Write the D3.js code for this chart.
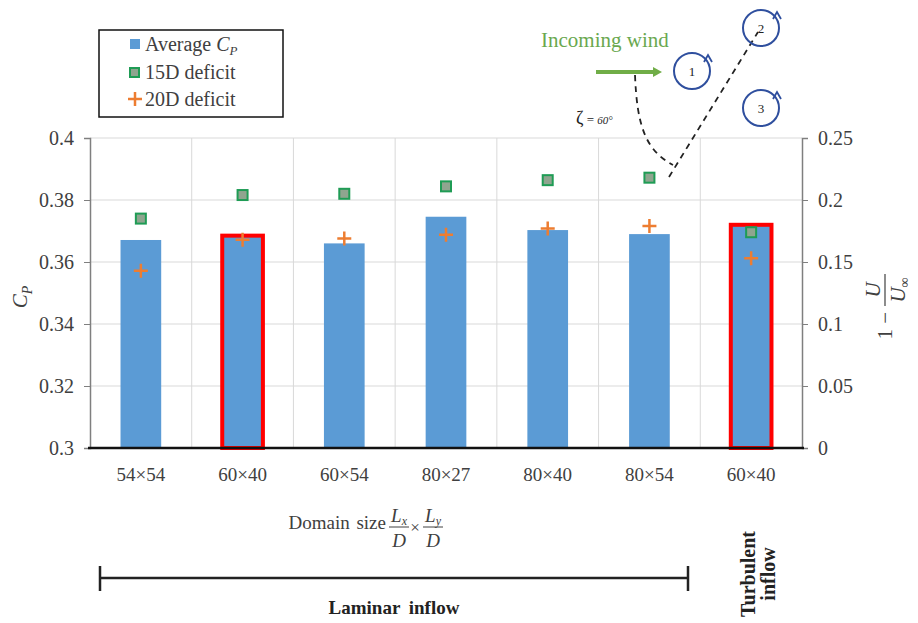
<!DOCTYPE html>
<html>
<head>
<meta charset="utf-8">
<script src="https://cdn.jsdelivr.net/npm/d3@7"></script>
<style>
  body { margin: 0; background: #fff; }
</style>
</head>
<body>
<div id="vis"></div>
<script>
// domain sizes (last one is the turbulent inflow case)
let categories = ['54×54', '60×40', '60×54', '80×27', '80×40', '80×54', '60×40']
let avgCp = [0.3671, 0.3685, 0.3660, 0.3746, 0.3703, 0.3690, 0.3720]
let deficit15D = [0.185, 0.204, 0.205, 0.211, 0.216, 0.218, 0.174]
let deficit20D = [0.143, 0.168, 0.169, 0.172, 0.177, 0.179, 0.153]
let highlighted = [false, true, false, false, false, false, true]
let leftTicks = [0.3, 0.32, 0.34, 0.36, 0.38, 0.4]
let rightTicks = [0, 0.05, 0.1, 0.15, 0.2, 0.25]

let width = 918, height = 623
let mLeft = 90, mRight = 802, mTop = 138, mBottom = 448

let svg = d3.select('#vis').append('svg')
    .attr('width', width)
    .attr('height', height)
    .attr('font-family', "'Liberation Serif', serif")

let x = d3.scaleBand()
    .domain(d3.range(categories.length))
    .range([mLeft, mRight])

let y = d3.scaleLinear().domain([0.3, 0.4]).range([mBottom, mTop])
let y2 = d3.scaleLinear().domain([0, 0.25]).range([mBottom, mTop])

let textColor = '#404040'

// grid
svg.append('g')
    .selectAll('line')
    .data(leftTicks.slice(1))
    .join('line')
    .attr('x1', mLeft).attr('x2', mRight)
    .attr('y1', d => y(d)).attr('y2', d => y(d))
    .attr('stroke', '#d9d9d9').attr('stroke-width', 1)

svg.append('g')
    .selectAll('line')
    .data(d3.range(1, categories.length))
    .join('line')
    .attr('x1', d => x(d)).attr('x2', d => x(d))
    .attr('y1', mTop).attr('y2', mBottom)
    .attr('stroke', '#d9d9d9').attr('stroke-width', 1)

// left axis
let yAxis = svg.append('g')
    .attr('transform', `translate(${mLeft},0)`)
    .call(d3.axisLeft(y).tickValues(leftTicks).tickSize(6).tickFormat(d => +d.toFixed(2)))
yAxis.attr('font-family', null)
yAxis.select('.domain').attr('stroke', '#7f7f7f').attr('stroke-width', 1.5)
yAxis.selectAll('.tick line').attr('stroke', '#7f7f7f')
yAxis.selectAll('.tick text')
    .attr('x', -16)
    .style('font-size', '20px')
    .attr('fill', textColor)

// right axis
let y2Axis = svg.append('g')
    .attr('transform', `translate(${mRight},0)`)
    .call(d3.axisRight(y2).tickValues(rightTicks).tickSize(6).tickFormat(d => +d.toFixed(2)))
y2Axis.attr('font-family', null)
y2Axis.select('.domain').attr('stroke', '#7f7f7f').attr('stroke-width', 1.5)
y2Axis.selectAll('.tick line').attr('stroke', '#7f7f7f')
y2Axis.selectAll('.tick text')
    .attr('x', 16)
    .style('font-size', '20px')
    .attr('fill', textColor)

// bars
let barW = x.bandwidth() * 0.4
svg.append('g')
    .selectAll('rect')
    .data(avgCp)
    .join('rect')
    .attr('x', (d, i) => x(i) + (x.bandwidth() - barW) / 2)
    .attr('y', d => y(d))
    .attr('width', barW)
    .attr('height', d => mBottom - y(d))
    .attr('fill', '#5b9bd5')
    .attr('stroke', (d, i) => highlighted[i] ? '#ff0000' : 'none')
    .attr('stroke-width', 4)

// bottom axis line
svg.append('line')
    .attr('x1', mLeft - 2).attr('x2', mRight + 2)
    .attr('y1', mBottom).attr('y2', mBottom)
    .attr('stroke', '#111').attr('stroke-width', 2.5)

// x labels
svg.append('g')
    .selectAll('text')
    .data(categories)
    .join('text')
    .attr('x', (d, i) => x(i) + x.bandwidth() / 2)
    .attr('y', 481)
    .attr('text-anchor', 'middle')
    .style('font-size', '19px')
    .attr('fill', textColor)
    .text(d => d)

// 15D deficit markers
let sq = 10
svg.append('g')
    .selectAll('rect')
    .data(deficit15D)
    .join('rect')
    .attr('x', (d, i) => x(i) + x.bandwidth() / 2 - sq / 2)
    .attr('y', d => y2(d) - sq / 2)
    .attr('width', sq).attr('height', sq)
    .attr('fill', '#8fa58f')
    .attr('stroke', '#1f9c55')
    .attr('stroke-width', 2)

// 20D deficit markers
let pl = 7
svg.append('g')
    .selectAll('path')
    .data(deficit20D)
    .join('path')
    .attr('d', (d, i) => {
        let cx = x(i) + x.bandwidth() / 2, cy = y2(d)
        return `M${cx - pl},${cy}H${cx + pl}M${cx},${cy - pl}V${cy + pl}`
    })
    .attr('stroke', '#ed7d31')
    .attr('stroke-width', 2.5)

// axis titles
let cpTitle = svg.append('text')
    .attr('transform', 'translate(27,297) rotate(-90)')
    .attr('text-anchor', 'middle')
    .style('font-size', '21px')
    .attr('fill', textColor)
cpTitle.append('tspan').style('font-style', 'italic').text('C')
cpTitle.append('tspan').style('font-style', 'italic').style('font-size', '14px').attr('dy', 5).text('P')

let rt = svg.append('g').attr('transform', 'translate(885,302) rotate(-90)')
rt.append('text')
    .attr('x', -10).attr('y', 7)
    .attr('text-anchor', 'end')
    .style('font-size', '21px')
    .attr('fill', textColor)
    .text('1 −')
rt.append('line')
    .attr('x1', -4).attr('x2', 28)
    .attr('y1', 0).attr('y2', 0)
    .attr('stroke', textColor).attr('stroke-width', 1.2)
rt.append('text')
    .attr('x', 12).attr('y', -5)
    .attr('text-anchor', 'middle')
    .style('font-size', '21px').style('font-style', 'italic')
    .attr('fill', textColor)
    .text('U')
let den = rt.append('text')
    .attr('x', 12).attr('y', 20)
    .attr('text-anchor', 'middle')
    .style('font-size', '21px').style('font-style', 'italic')
    .attr('fill', textColor)
den.append('tspan').text('U')
den.append('tspan').style('font-size', '14px').style('font-style', 'normal').attr('dy', 4).text('∞')

// x axis title
let dom = svg.append('g')
dom.append('text')
    .attr('x', 386).attr('y', 529)
    .attr('text-anchor', 'end')
    .style('font-size', '19px')
    .style('word-spacing', '2px')
    .attr('fill', textColor)
    .text('Domain size')
function frac(cx, num, sub) {
    let t = dom.append('text')
        .attr('x', cx).attr('y', 522)
        .attr('text-anchor', 'middle')
        .style('font-size', '19px').style('font-style', 'italic')
        .attr('fill', textColor)
    t.append('tspan').text(num)
    t.append('tspan').style('font-size', '12px').attr('dy', 3).text(sub)
    dom.append('line')
        .attr('x1', cx - 10).attr('x2', cx + 10)
        .attr('y1', 527).attr('y2', 527)
        .attr('stroke', textColor).attr('stroke-width', 1)
    dom.append('text')
        .attr('x', cx).attr('y', 547)
        .attr('text-anchor', 'middle')
        .style('font-size', '19px').style('font-style', 'italic')
        .attr('fill', textColor)
        .text('D')
}
frac(399, 'L', 'x')
dom.append('text')
    .attr('x', 415).attr('y', 533)
    .attr('text-anchor', 'middle')
    .style('font-size', '17px')
    .attr('fill', textColor)
    .text('×')
frac(433, 'L', 'y')

// laminar bracket
svg.append('path')
    .attr('d', 'M100,578H688M100,566V591M688,566V591')
    .attr('stroke', '#222').attr('stroke-width', 2.5).attr('fill', 'none')
svg.append('text')
    .attr('x', 394).attr('y', 614)
    .attr('text-anchor', 'middle')
    .style('font-size', '19px').style('font-weight', 'bold')
    .style('word-spacing', '4px')
    .attr('fill', '#222')
    .text('Laminar inflow')
let turb = svg.append('text')
    .attr('transform', 'translate(749,574) rotate(-90)')
    .attr('text-anchor', 'middle')
    .style('font-size', '20px').style('font-weight', 'bold')
    .attr('fill', '#222')
turb.append('tspan').attr('x', 0).attr('dy', 6).text('Turbulent')
turb.append('tspan').attr('x', 0).attr('dy', 20).text('inflow')

// legend
let lg = svg.append('g')
lg.append('rect')
    .attr('x', 99).attr('y', 30).attr('width', 184).attr('height', 87)
    .attr('fill', '#fff').attr('stroke', '#111').attr('stroke-width', 1.5)
lg.append('rect').attr('x', 130).attr('y', 39).attr('width', 10).attr('height', 10).attr('fill', '#5b9bd5')
lg.append('rect').attr('x', 130).attr('y', 68).attr('width', 9).attr('height', 9)
    .attr('fill', '#8fa58f').attr('stroke', '#1f9c55').attr('stroke-width', 2)
lg.append('path').attr('d', 'M128,99H142M135,92V106').attr('stroke', '#ed7d31').attr('stroke-width', 2.5)
let l1 = lg.append('text').attr('x', 145).attr('y', 51).style('font-size', '20px').attr('fill', textColor)
l1.append('tspan').text('Average ')
l1.append('tspan').style('font-style', 'italic').text('C')
l1.append('tspan').style('font-style', 'italic').style('font-size', '13px').attr('dy', 4).text('P')
lg.append('text').attr('x', 145).attr('y', 79).style('font-size', '20px').attr('fill', textColor).text('15D deficit')
lg.append('text').attr('x', 145).attr('y', 106).style('font-size', '20px').attr('fill', textColor).text('20D deficit')

// wind sketch
let sk = svg.append('g')
sk.append('text')
    .attr('x', 541).attr('y', 47)
    .style('font-size', '21px')
    .attr('fill', '#6aa84f')
    .text('Incoming wind')
sk.append('line')
    .attr('x1', 596).attr('x2', 655)
    .attr('y1', 72).attr('y2', 72)
    .attr('stroke', '#70ad47').attr('stroke-width', 4)
sk.append('path')
    .attr('d', 'M653,67L662,72L653,77Z')
    .attr('fill', '#70ad47')
sk.append('path')
    .attr('d', 'M635,75C637,125 645,150 673,165')
    .attr('stroke', '#222').attr('stroke-width', 1.8).attr('fill', 'none')
    .attr('stroke-dasharray', '6,5')
sk.append('path')
    .attr('d', 'M669,177L758,32')
    .attr('stroke', '#222').attr('stroke-width', 1.8).attr('fill', 'none')
    .attr('stroke-dasharray', '6,5')
let turbines = [[692, 71, '1'], [761, 28, '2'], [761, 108, '3']]
turbines.forEach(t => {
    sk.append('circle')
        .attr('cx', t[0]).attr('cy', t[1]).attr('r', 18)
        .attr('fill', 'none').attr('stroke', '#2f4f9e').attr('stroke-width', 2)
    sk.append('path')
        .attr('d', `M${t[0] + 12},${t[1] - 9}l4,-7l4,7`)
        .attr('fill', 'none').attr('stroke', '#2f4f9e').attr('stroke-width', 1.8)
    sk.append('text')
        .attr('x', t[0]).attr('y', t[1] + 5)
        .attr('text-anchor', 'middle')
        .style('font-size', '13px')
        .attr('fill', '#222')
        .text(t[2])
})
let zeta = sk.append('text').attr('x', 576).attr('y', 124).attr('fill', '#222')
zeta.append('tspan').style('font-size', '18px').text('ζ')
zeta.append('tspan').style('font-size', '13px').text(' = ')
zeta.append('tspan').style('font-size', '11px').style('font-style', 'italic').text('60°')
</script>
</body>
</html>
